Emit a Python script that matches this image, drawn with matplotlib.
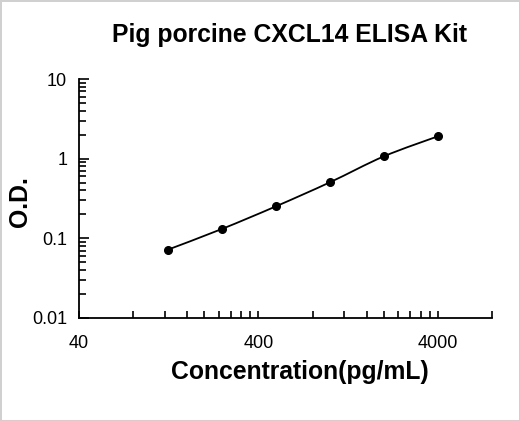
import numpy as np
import matplotlib
matplotlib.use("Agg")
import matplotlib.pyplot as plt
from matplotlib.path import Path
from matplotlib.patches import PathPatch
from matplotlib.ticker import FixedLocator, NullFormatter

# Data
concentration = [125, 250, 500, 1000, 2000, 4000]
od = [0.072, 0.131, 0.252, 0.505, 1.07, 1.91]

x_major = [40, 400, 4000]
x_major_labels = ["40", "400", "4000"]
y_major = [0.01, 0.1, 1, 10]
y_major_labels = ["0.01", "0.1", "1", "10"]

title = "Pig porcine CXCL14 ELISA Kit"
xlabel = "Concentration(pg/mL)"
ylabel = "O.D."

plt.rcParams['font.family'] = ['Liberation Sans', 'DejaVu Sans']

fig = plt.figure(figsize=(5.2, 4.21), dpi=100)
fig.patch.set_facecolor('white')
fig.patch.set_edgecolor('#d0d0d0')
fig.patch.set_linewidth(2)
ax = fig.add_axes([79/520, 1-318/421, (492-79)/520, (318-79)/421])

ax.set_xscale('log')
ax.set_yscale('log')
ax.set_xlim(40, 8000)
ax.set_ylim(0.01, 10)

# smoothed line (Catmull-Rom style Bezier in log space)
lx = np.log10(concentration)
ly = np.log10(od)
n = len(lx)
verts = [(concentration[0], od[0])]
codes = [Path.MOVETO]
for i in range(n - 1):
    p0 = (lx[max(i-1, 0)], ly[max(i-1, 0)])
    p1 = (lx[i], ly[i])
    p2 = (lx[i+1], ly[i+1])
    p3 = (lx[min(i+2, n-1)], ly[min(i+2, n-1)])
    c1 = (p1[0] + (p2[0]-p0[0])/6, p1[1] + (p2[1]-p0[1])/6)
    c2 = (p2[0] - (p3[0]-p1[0])/6, p2[1] - (p3[1]-p1[1])/6)
    for c in (c1, c2, p2):
        verts.append((10**c[0], 10**c[1]))
        codes.append(Path.CURVE4)
ax.add_patch(PathPatch(Path(verts, codes), fill=False, edgecolor='black', lw=1.3))

ax.plot(concentration, od, linestyle='none', marker='o', color='black', markersize=5.5)

# spines
ax.spines['top'].set_visible(False)
ax.spines['right'].set_visible(False)
ax.spines['left'].set_linewidth(1.3)
ax.spines['bottom'].set_linewidth(1.3)

# ticks
ax.xaxis.set_major_locator(FixedLocator(x_major))
ax.set_xticklabels(x_major_labels)
x_minor = [m*k for m in x_major for k in range(2, 10) if m*k <= 8000]
ax.xaxis.set_minor_locator(FixedLocator(x_minor))
ax.xaxis.set_minor_formatter(NullFormatter())

ax.yaxis.set_major_locator(FixedLocator(y_major))
ax.set_yticklabels(y_major_labels)
y_minor = [m*k for m in y_major[:-1] for k in range(2, 10)]
ax.yaxis.set_minor_locator(FixedLocator(y_minor))
ax.yaxis.set_minor_formatter(NullFormatter())

ax.tick_params(axis='both', which='both', direction='in', color='black')
ax.tick_params(axis='x', which='major', length=5, width=1.2, pad=12, labelsize=13)
ax.tick_params(axis='x', which='minor', length=5, width=1.2)
ax.tick_params(axis='y', which='major', length=7, width=1.2, pad=8.5, labelsize=13)
ax.tick_params(axis='y', which='minor', length=5, width=1.2)

fig.text(290/520, 1-42/421, title, ha='center', va='baseline', fontsize=17.8, fontweight='bold')
fig.text(300/520, 1-379/421, xlabel, ha='center', va='baseline', fontsize=17.8, fontweight='bold')
fig.text(20/520, 1-202/421, ylabel, ha='center', va='center', rotation=90, fontsize=17.8, fontweight='bold')

fig.savefig('out.png', dpi=100, facecolor=fig.get_facecolor(), edgecolor=fig.get_edgecolor())
